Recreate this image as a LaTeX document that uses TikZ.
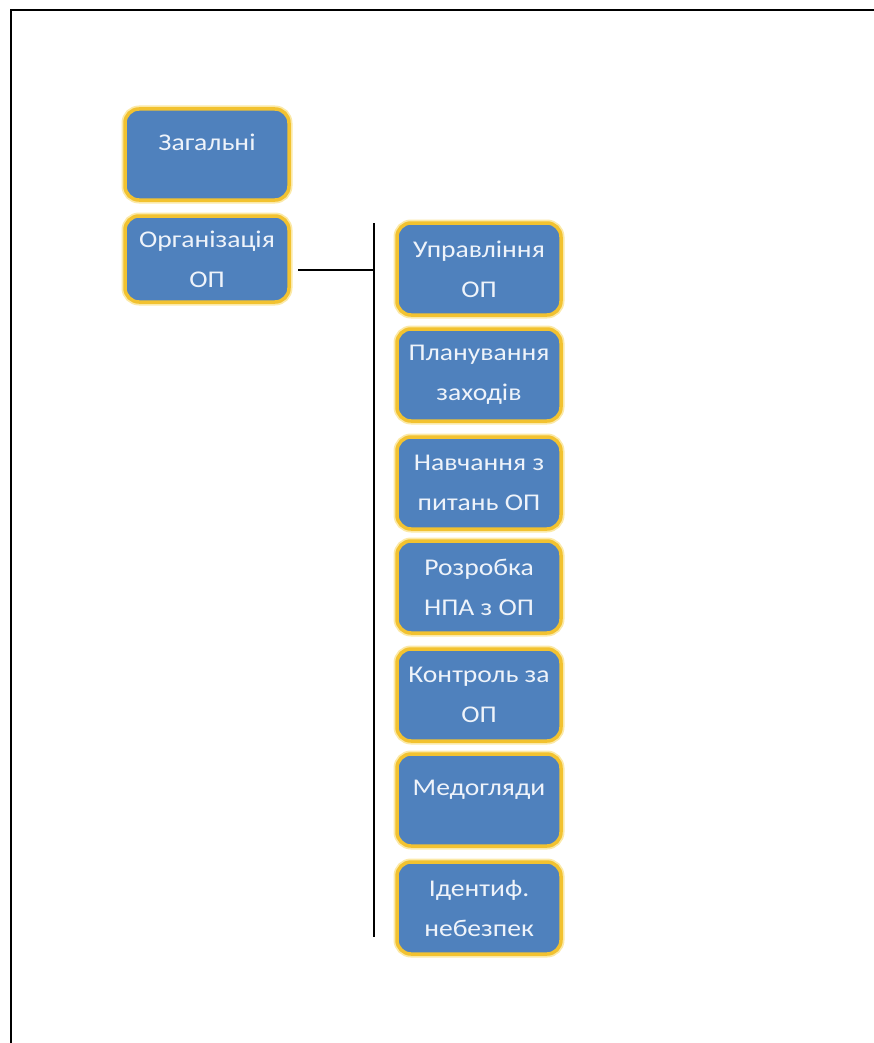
\documentclass[tikz,border=0pt]{standalone}
\usepackage{fontspec}
\newfontfamily\boxfont[FakeStretch=1.15]{Carlito}
\definecolor{boxblue}{HTML}{4F81BD}
\definecolor{boxgold}{HTML}{F2C230}
\definecolor{glow}{HTML}{FBE9A8}
\definecolor{boxtext}{HTML}{EEF3FA}
\begin{document}
\begin{tikzpicture}[x=1pt,y=-1pt,
  box/.style={draw=boxgold, line width=3.5pt, fill=boxblue, rounded corners=14pt,
    minimum width=164pt, text=boxtext, inner sep=0pt,
    font=\boxfont\fontsize{24}{40}\selectfont,
    preaction={draw=glow, line width=7pt}},
  twoline/.style={box, align=center},
  oneline/.style={box, text height=15.5pt, text depth=24pt},
  link/.style={draw=black, line width=2pt}]
\useasboundingbox (0,0) rectangle (874,1043);
% frame
\coordinate (fbl) at (11,1050);
\coordinate (ftl) at (11,10);
\coordinate (ftr) at (880,10);
\draw[line width=2.5pt] (fbl) -- (ftl) -- (ftr);
% left boxes
\node[oneline, minimum height=91pt] (zag) at (207,154.5) {Загальні};
\node[twoline, minimum height=86pt] (org) at (207,259) {Організація\\ОП};
% right boxes
\node[twoline, minimum height=92pt] (b1) at (479,269) {Управління\\ОП};
\node[twoline, minimum height=92pt] (b2) at (479,375) {Планування\\заходів};
\node[twoline, minimum height=92pt] (b3) at (479,483) {Навчання з\\питань ОП};
\node[twoline, minimum height=92pt] (b4) at (479,587) {Розробка\\НПА з ОП};
\node[twoline, minimum height=92pt] (b5) at (479,695) {Контроль за\\ОП};
\node[oneline, minimum height=92pt] (b6) at (479,800) {Медогляди};
\node[twoline, minimum height=92pt] (b7) at (479,908) {Ідентиф.\\небезпек};
% connectors
\coordinate (vtop) at (374,223);
\coordinate (vbot) at (374,937);
\coordinate (hstart) at (298,270);
\coordinate (hend) at (374,270);
\draw[link] (vtop) -- (vbot);
\draw[link] (hstart) -- (hend);
\end{tikzpicture}
\end{document}
